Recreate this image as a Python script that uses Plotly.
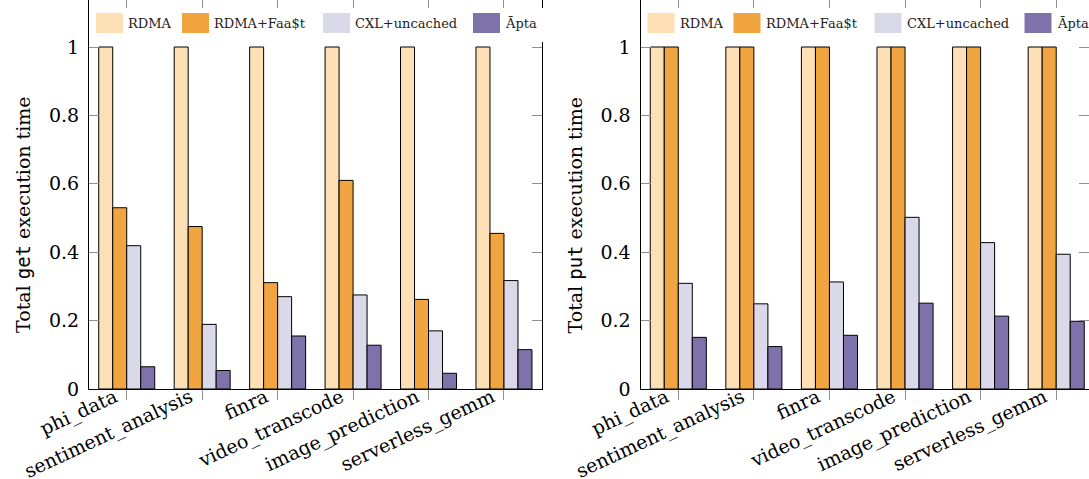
import plotly.graph_objects as go

# ---------------- data ----------------
categories = ["phi_data", "sentiment_analysis", "finra", "video_transcode",
              "image_prediction", "serverless_gemm"]
series_names = ["RDMA", "RDMA+Faa$t", "CXL+uncached", "Āpta"]

get_rdma = [1, 1, 1, 1, 1, 1]
get_faast = [0.530, 0.475, 0.311, 0.610, 0.262, 0.455]
get_cxl = [0.419, 0.189, 0.270, 0.275, 0.170, 0.317]
get_apta = [0.065, 0.054, 0.155, 0.128, 0.046, 0.115]

put_rdma = [1, 1, 1, 1, 1, 1]
put_faast = [1, 1, 1, 1, 1, 1]
put_cxl = [0.309, 0.249, 0.313, 0.502, 0.428, 0.394]
put_apta = [0.151, 0.124, 0.157, 0.251, 0.213, 0.198]

y_tick_vals = [0, 0.2, 0.4, 0.6, 0.8, 1]
y_tick_text = ["0", "0.2", "0.4", "0.6", "0.8", "1"]

colors = ["#FDE0B5", "#F0A540", "#D9D9EA", "#7F72AB"]

# ---------------- layout helpers ----------------
W, H = 1089, 479
MT, MB = 0, 90
PH = H - MT - MB


def px(x):
    return x / W


def py(y):
    return 1 - (y - MT) / PH


SERIF = "DejaVu Serif"
TICKGREY = "#8f8f8f"

fig = go.Figure()

panels = [
    ("x", "y", [get_rdma, get_faast, get_cxl, get_apta]),
    ("x2", "y2", [put_rdma, put_faast, put_cxl, put_apta]),
]
for xa, ya, vals in panels:
    for name, v, c in zip(series_names, vals, colors):
        fig.add_trace(go.Bar(
            x=categories, y=v, name=name, xaxis=xa, yaxis=ya,
            marker=dict(color=c, line=dict(color="#000000", width=1)),
            showlegend=False,
        ))

ymax = (389 - MT) / 342.0

xcommon = dict(
    type="category", categoryorder="array", categoryarray=categories,
    showline=True, linecolor="black", linewidth=1, mirror=False,
    ticks="outside", ticklen=10, tickcolor=TICKGREY, tickwidth=1,
    tickangle=-25, tickfont=dict(family=SERIF, size=19, color="black"),
    ticklabelstandoff=-21, ticklabelshift=-12,
    showgrid=False, zeroline=False, fixedrange=True, automargin=False,
)
ycommon = dict(
    range=[0, ymax], tickvals=y_tick_vals, ticktext=y_tick_text,
    showline=True, linecolor="black", linewidth=1, mirror="ticks",
    ticks="inside", ticklen=10, tickcolor=TICKGREY, tickwidth=1,
    tickfont=dict(family=SERIF, size=19, color="black"),
    ticklabelstandoff=5, automargin=False,
    showgrid=False, zeroline=False, fixedrange=True,
)

left_dom = [px(89), px(541.7)]
right_dom = [px(640.5), 1.0]
right_hi = 5.5 - (1094.0 - 1089.0) / 75.6

fig.update_layout(
    xaxis=dict(xcommon, domain=left_dom, anchor="y", range=[-0.5, 5.5]),
    yaxis=dict(ycommon, domain=[0, 1], anchor="x"),
    xaxis2=dict(xcommon, domain=right_dom, anchor="y2", range=[-0.5, right_hi]),
    yaxis2=dict(ycommon, domain=[0, 1], anchor="x2"),
    # top tick marks (inside)
    xaxis3=dict(overlaying="x", side="top", anchor="y", type="linear",
                range=[-0.5, 5.5], tickvals=[0, 1, 2, 3, 4, 5],
                ticks="inside", ticklen=8, tickcolor=TICKGREY,
                showticklabels=False, showline=False, showgrid=False,
                zeroline=False, fixedrange=True, automargin=False),
    xaxis4=dict(overlaying="x2", side="top", anchor="y2", type="linear",
                range=[-0.5, right_hi], tickvals=[0, 1, 2, 3, 4, 5],
                ticks="inside", ticklen=8, tickcolor=TICKGREY,
                showticklabels=False, showline=False, showgrid=False,
                zeroline=False, fixedrange=True, automargin=False),
    barmode="group", bargap=0.258, bargroupgap=0,
    width=W, height=H,
    margin=dict(l=0, r=0, t=MT, b=MB, pad=0, autoexpand=False),
    paper_bgcolor="white", plot_bgcolor="white",
    showlegend=False,
)

# invisible traces so the top overlay axes are drawn
for xa, ya in [("x3", "y"), ("x4", "y2")]:
    fig.add_trace(go.Scatter(x=[0, 5], y=[None, None], xaxis=xa, yaxis=ya,
                             mode="markers", showlegend=False,
                             hoverinfo="skip"))

shapes = []
annotations = []
legend_sw_x = [96, 182, 323, 473]
for dx, title_word in [(0, "get"), (551.5, "put")]:
    # white legend background
    shapes.append(dict(type="rect", xref="paper", yref="paper",
                       x0=px(91 + dx), x1=min(1.0, px(545 + dx)),
                       y0=py(42), y1=py(8), fillcolor="white",
                       line=dict(width=0), layer="above"))
    for sx, name, c in zip(legend_sw_x, series_names, colors):
        shapes.append(dict(type="rect", xref="paper", yref="paper",
                           x0=px(sx + dx), x1=px(sx + 27 + dx),
                           y0=py(33), y1=py(13), fillcolor=c,
                           line=dict(width=0), layer="above"))
        annotations.append(dict(
            text=name, xref="paper", yref="paper",
            x=px(sx + 30 + dx), y=py(24), xanchor="left", yanchor="middle",
            showarrow=False,
            font=dict(family=SERIF, size=13, color="#222222")))
    annotations.append(dict(
        text=("Total <span style=\"font-family:'DejaVu Sans Mono'\">"
              + title_word + "</span> execution time"),
        xref="paper", yref="paper", x=px(23 + dx), y=py(215),
        xanchor="center", yanchor="middle", textangle=-90, showarrow=False,
        font=dict(family=SERIF, size=19, color="black")))

fig.update_layout(shapes=shapes, annotations=annotations)

fig.write_html("out.html")
